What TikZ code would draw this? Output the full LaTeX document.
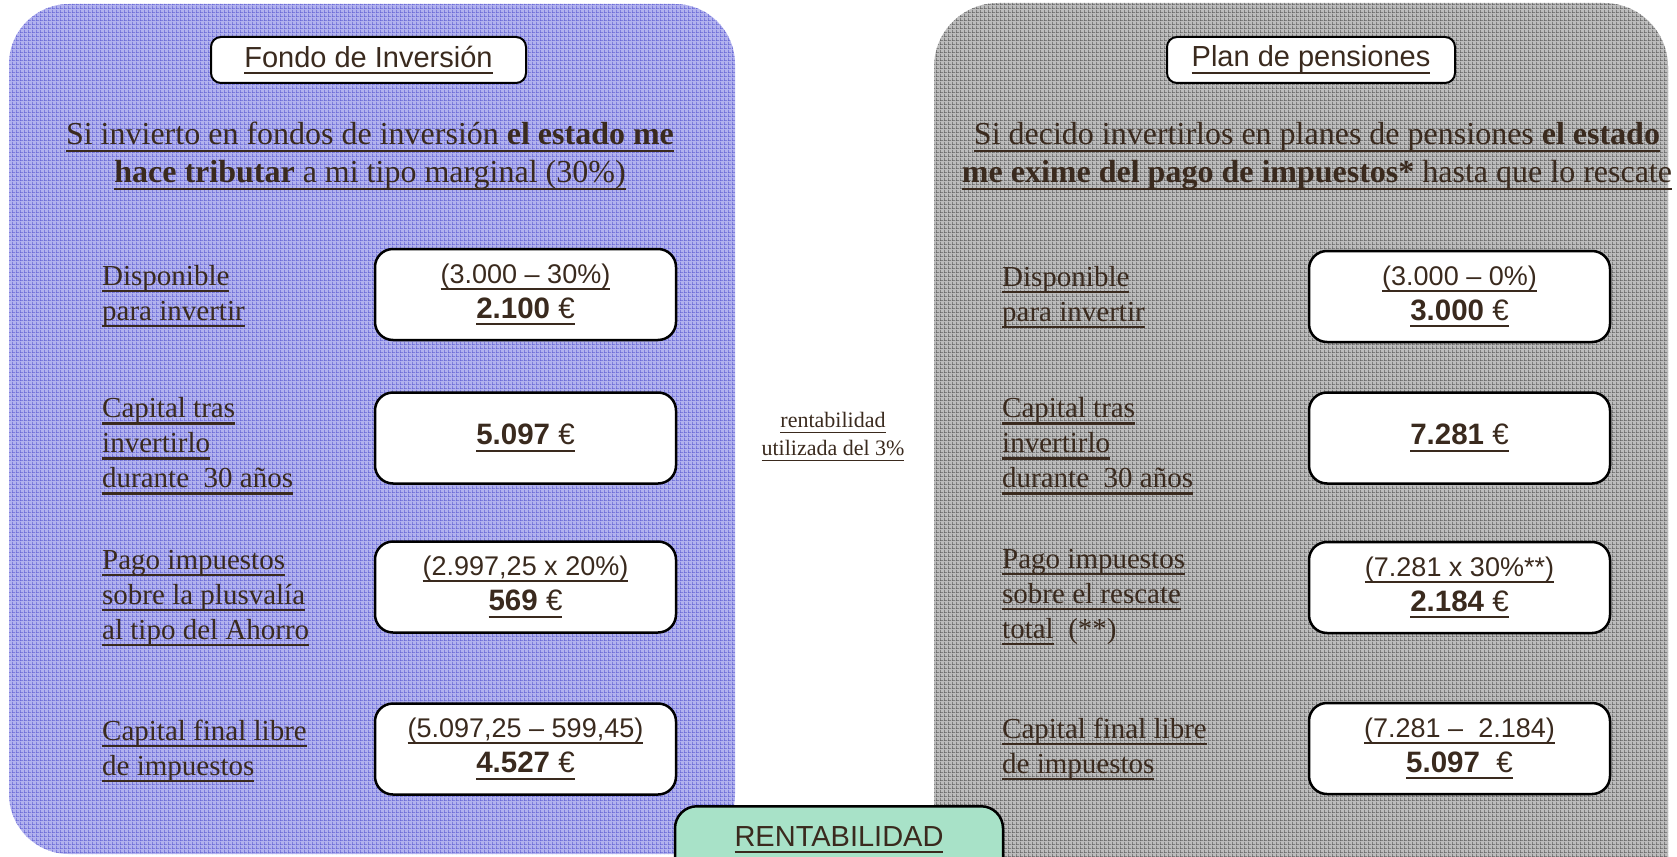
\documentclass[tikz,border=0pt]{standalone}
\usepackage{fontspec}
\setmainfont{Liberation Serif}
\newfontfamily\arialf{Liberation Sans}
\usetikzlibrary{patterns}
\definecolor{txt}{RGB}{58,42,30}
\definecolor{bluebase}{RGB}{178,178,238}
\definecolor{blueline}{RGB}{100,100,212}
\definecolor{greybase}{RGB}{188,188,188}
\definecolor{greyline}{RGB}{96,96,96}
\definecolor{mint}{RGB}{168,226,200}
\pgfdeclarepatternformonly{panelgrid}{\pgfpointorigin}{\pgfqpoint{4pt}{4pt}}{\pgfqpoint{4pt}{4pt}}{%
  \pgfsetlinewidth{0.8pt}%
  \pgfpathmoveto{\pgfqpoint{0pt}{0.4pt}}\pgfpathlineto{\pgfqpoint{4pt}{0.4pt}}%
  \pgfpathmoveto{\pgfqpoint{0.4pt}{0pt}}\pgfpathlineto{\pgfqpoint{0.4pt}{4pt}}%
  \pgfusepath{stroke}}
\newsavebox{\ulbox}
\newcommand{\ulin}[1]{\sbox{\ulbox}{#1}\rlap{\vrule width\wd\ulbox height -0.17em depth 0.245em}\usebox{\ulbox}}
\newcommand{\valtxt}[2]{{\fontsize{27}{35}\selectfont\ulin{#1}}\\{\fontsize{29.5}{35}\selectfont\ulin{#2}}}
\begin{document}
\begin{tikzpicture}[x=1pt,y=-1pt,line join=round,
  titlebox/.style={draw,line width=2pt,fill=white,rounded corners=10pt,minimum width=#1,minimum height=46pt,inner sep=0pt,font=\arialf\fontsize{29}{35}\selectfont,text=txt},
  valbox/.style={draw,line width=2.5pt,fill=white,rounded corners=18pt,minimum width=301pt,minimum height=91pt,inner sep=0pt,align=center,font=\arialf\fontsize{29.5}{35}\selectfont,text=txt},
  lbl/.style={anchor=west,inner sep=0pt,align=left,font=\fontsize{29}{35}\selectfont,text=txt},
  subtxt/.style={inner sep=0pt,align=center,font=\fontsize{32}{38}\selectfont,text=txt},
  midtxt/.style={inner sep=0pt,align=center,font=\fontsize{22}{28}\selectfont,text=txt}]
\useasboundingbox (0,0) rectangle (1677,856);
\clip (0,0) rectangle (1677,856);
\path
(9,4) coordinate (L1)
(735,854) coordinate (L2)
(934,3) coordinate (R1)
(1668,930) coordinate (R2)
;
% panels
\fill[bluebase,rounded corners=60pt] (L1) rectangle (L2);
\fill[pattern=panelgrid,pattern color=blueline,rounded corners=60pt] (L1) rectangle (L2);
\fill[greybase,rounded corners=64pt] (R1) rectangle (R2);
\fill[pattern=panelgrid,pattern color=greyline,rounded corners=64pt] (R1) rectangle (R2);
% titles
\node[titlebox=315pt] (fondo) at (368.5,60) {\ulin{Fondo de Inversión}};
\node[titlebox=288pt] (plan) at (1311,60) {\ulin{Plan de pensiones}};
\node[subtxt] (fondotxt) at (370,156) {\ulin{Si invierto en fondos de inversión \textbf{el estado me}}\\\ulin{\textbf{hace tributar} a mi tipo marginal (30\%)}};
\node[subtxt] (plantxt) at (1317,156) {\ulin{Si decido invertirlos en planes de pensiones \textbf{el estado}}\\\ulin{\textbf{me exime del pago de impuestos*} hasta que lo rescate}};
% left column
\node[lbl] (fl1) at (102,296) {\ulin{Disponible}\\\ulin{para invertir}};
\node[lbl] (fl2) at (102,446) {\ulin{Capital tras}\\\ulin{invertirlo}\\\ulin{durante\ \ 30 años}};
\node[lbl] (fl3) at (102,598) {\ulin{Pago impuestos}\\\ulin{sobre la plusvalía}\\\ulin{al tipo del Ahorro}};
\node[lbl] (fl4) at (102,751) {\ulin{Capital final libre}\\\ulin{de impuestos}};
\node[valbox] (fv1) at (525.5,294.5) {\valtxt{(3.000 – 30\%)}{\textbf{2.100} €}};
\node[valbox] (fv2) at (525.5,438) {\ulin{\textbf{5.097} €}};
\node[valbox] (fv3) at (525.5,587) {\valtxt{(2.997,25 x 20\%)}{\textbf{569} €}};
\node[valbox] (fv4) at (525.5,749) {\valtxt{(5.097,25 – 599,45)}{\textbf{4.527} €}};
% right column
\node[lbl] (pl1) at (1002,297) {\ulin{Disponible}\\\ulin{para invertir}};
\node[lbl] (pl2) at (1002,446) {\ulin{Capital tras}\\\ulin{invertirlo}\\\ulin{durante\ \ 30 años}};
\node[lbl] (pl3) at (1002,597) {\ulin{Pago impuestos}\\\ulin{sobre el rescate}\\\ulin{total}\ \ (**)};
\node[lbl] (pl4) at (1002,749) {\ulin{Capital final libre}\\\ulin{de impuestos}};
\node[valbox] (pv1) at (1459.5,296.5) {\valtxt{(3.000 – 0\%)}{\textbf{3.000} €}};
\node[valbox] (pv2) at (1459.5,438) {\ulin{\textbf{7.281} €}};
\node[valbox] (pv3) at (1459.5,587.5) {\valtxt{(7.281 x 30\%**)}{\textbf{2.184} €}};
\node[valbox] (pv4) at (1459.5,748.5) {\valtxt{(7.281 –\ \ 2.184)}{\textbf{5.097}\ \ €}};
% middle
\node[midtxt] (tasa) at (833,437) {\ulin{rentabilidad}\\\ulin{utilizada del 3\%}};
\node[draw,line width=2.5pt,fill=mint,rounded corners=22pt,anchor=north,minimum width=328pt,inner ysep=14pt,text height=26pt,text depth=40pt,font=\arialf\fontsize{29}{35}\selectfont,text=txt] (rentab) at (839,805) {\ulin{RENTABILIDAD}};
\end{tikzpicture}
\end{document}
